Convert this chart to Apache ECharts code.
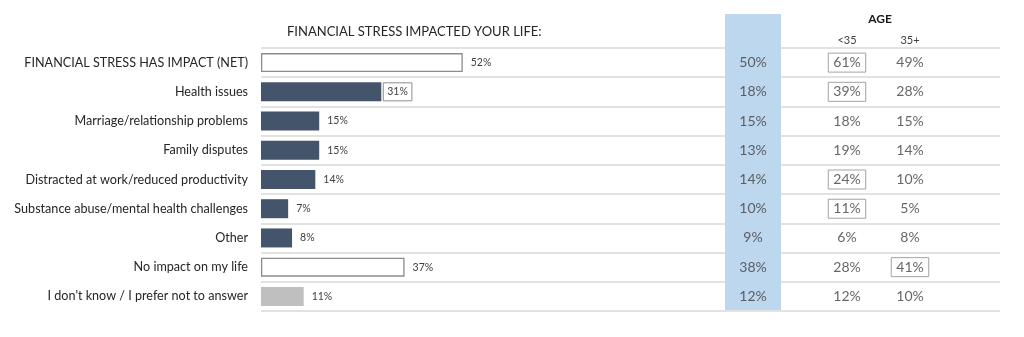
<!DOCTYPE html>
<html>
<head>
<meta charset="utf-8">
<script src="https://cdn.jsdelivr.net/npm/echarts@6/dist/echarts.min.js"></script>
<style>
  html, body { margin: 0; padding: 0; background: #ffffff; }
  #chart { width: 1024px; height: 337px; }
</style>
</head>
<body>
<div id="chart"></div>
<script>
// Survey rows, top to bottom
const categories = [
  'FINANCIAL STRESS HAS IMPACT (NET)',
  'Health issues',
  'Marriage/relationship problems',
  'Family disputes',
  'Distracted at work/reduced productivity',
  'Substance abuse/mental health challenges',
  'Other',
  'No impact on my life',
  "I don't know / I prefer not to answer"
];
// Row type: net summary rows, individual impacts, and the non-answer row
const rowKind = ['net', 'item', 'item', 'item', 'item', 'item', 'item', 'net', 'unsure'];

// Current-year totals (bars), prior year and age splits (table)
const totalCurrent = [52, 31, 15, 15, 14, 7, 8, 37, 11];
const total2020    = [50, 18, 15, 13, 14, 10, 9, 38, 12];
const ageUnder35   = [61, 39, 18, 19, 24, 11, 6, 28, 12];
const age35Plus    = [49, 28, 15, 14, 10, 5, 8, 41, 10];

// Rows marked as significantly different (drawn boxed)
const flaggedTotal   = [1];
const flaggedUnder35 = [0, 1, 4, 5];
const flagged35Plus  = [7];

const columnHeaders = ['2020', '<35', '35+'];
const chartTitle = 'FINANCIAL STRESS IMPACTED YOUR LIFE:';
const groupTitle = 'AGE';

const FONT = 'Lato, "Open Sans", sans-serif';
const TEXT = '#404040';
const ROW_TOP = 48, ROW_H = 263;

const barFill = {
  net:    { color: '#ffffff', borderColor: '#8c8c8c', borderWidth: 1.3 },
  item:   { color: '#44546a' },
  unsure: { color: '#bfbfbf' }
};

const chart = echarts.init(document.getElementById('chart'), null, { renderer: 'canvas' });

function hiddenValueAxis(gridIndex, max) {
  return { type: 'value', gridIndex, min: 0, max, show: false };
}
function rowAxis(gridIndex, extra) {
  return Object.assign({
    type: 'category', gridIndex, data: categories, inverse: true,
    axisLine: { show: false }, axisTick: { show: false }, axisLabel: { show: false }
  }, extra || {});
}

// Table columns: 2020 total, <35, 35+
const tableCols = [
  { values: total2020,  flags: [],             left: 725, width: 56, headerMargin: 11, headerStyle: { fontWeight: 'bold', fontSize: 13, color: '#1a1a1a' } },
  { values: ageUnder35, flags: flaggedUnder35, left: 828, width: 38, headerMargin: 2,  headerStyle: { fontSize: 11, color: TEXT } },
  { values: age35Plus,  flags: flagged35Plus,  left: 891, width: 38, headerMargin: 2,  headerStyle: { fontSize: 11, color: TEXT } }
];

const grids = [
  { left: 261, top: ROW_TOP, width: 388, height: ROW_H },           // bars
  { left: 261, top: ROW_TOP, right: 24, height: ROW_H }              // row rules
];
const xAxes = [hiddenValueAxis(0, 100), hiddenValueAxis(1, 1)];
const yAxes = [
  rowAxis(0, {
    axisLabel: { show: true, margin: 13, fontSize: 12.6, color: '#262626', fontFamily: FONT }
  }),
  rowAxis(1, {
    splitLine: { show: true, interval: 0, lineStyle: { color: '#d9d9d9', width: 1.5 } }
  })
];

const series = [{
  type: 'bar',
  xAxisIndex: 0, yAxisIndex: 0,
  barWidth: 19,
  silent: true,
  z: 3,
  data: totalCurrent.map((v, i) => {
    const item = { value: v, itemStyle: barFill[rowKind[i]] };
    if (flaggedTotal.includes(i)) {
      item.label = { distance: 2, padding: [4, 4, 3, 4], borderColor: '#8c8c8c', borderWidth: 1 };
    }
    return item;
  }),
  label: {
    show: true, position: 'right', distance: 8,
    formatter: '{c}%', fontSize: 10.5, color: TEXT, fontFamily: FONT
  }
}];

tableCols.forEach((col, k) => {
  const gi = k + 2;
  grids.push({ left: col.left, top: ROW_TOP, width: col.width, height: ROW_H });
  xAxes.push({
    type: 'category', gridIndex: gi, data: [columnHeaders[k]], position: 'top',
    axisLine: { show: false }, axisTick: { show: false },
    axisLabel: Object.assign({ margin: col.headerMargin, fontFamily: FONT }, col.headerStyle)
  });
  yAxes.push(rowAxis(gi));
  series.push({
    type: 'scatter',
    xAxisIndex: gi, yAxisIndex: gi,
    symbolSize: 1,
    itemStyle: { color: 'transparent' },
    silent: true,
    z: 10,
    data: col.values.map((v, i) => {
      const item = { value: [0, i, v] };
      if (col.flags.includes(i)) {
        item.label = { padding: [3, 5, 2, 5], borderColor: '#8c8c8c', borderWidth: 1 };
      }
      return item;
    }),
    label: {
      show: true, position: 'inside',
      formatter: p => p.value[2] + '%',
      fontSize: 14, color: TEXT, fontFamily: FONT
    }
  });
});

chart.setOption({
  animation: false,
  backgroundColor: '#ffffff',
  title: {
    text: chartTitle, left: 287, top: 25, padding: 0,
    textStyle: { fontSize: 13, fontWeight: 'normal', color: '#262626', fontFamily: FONT }
  },
  graphic: [
    { type: 'rect', z: 5, shape: { x: 725, y: 14, width: 56, height: 296 }, style: { fill: '#bdd7ee' } },
    { type: 'text', z: 6, x: 880, y: 19,
      style: { text: groupTitle, align: 'center', verticalAlign: 'middle', font: 'bold 12px ' + FONT, fill: '#1a1a1a' } }
  ],
  grid: grids,
  xAxis: xAxes,
  yAxis: yAxes,
  series
});
</script>
</body>
</html>
